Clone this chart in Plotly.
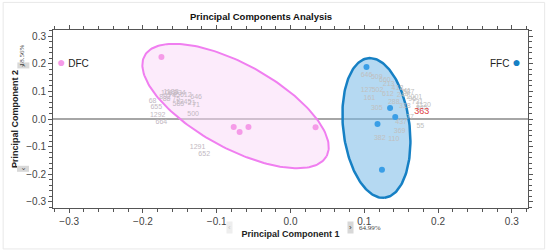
import numpy as np
import plotly.graph_objects as go

# sample scores
dfc_x = [-0.175, -0.077, -0.069, -0.057, 0.034]
dfc_y = [0.224, -0.029, -0.047, -0.029, -0.030]
ffc_x = [0.103, 0.135, 0.142, 0.118, 0.124]
ffc_y = [0.188, 0.040, 0.007, -0.018, -0.184]

# confidence ellipses: centre and two conjugate half-axis vectors
dfc_ell_center = (-0.0745, 0.047)
dfc_ell_a = (0.1233, -0.182)
dfc_ell_b = (-0.0276, -0.1326)
ffc_ell_center = (0.1165, -0.0325)
ffc_ell_a = (0.0113, -0.2524)
ffc_ell_b = (-0.0447, -0.0142)

# variable labels (loadings)
dfc_lab = ["1062", "745", "892", "646", "68", "655", "585", "21", "500", "1292",
           "664", "1291", "652", "1245", "75", "1183", "934", "88", "612", "71"]
dfc_lab_x = [-0.165, -0.158, -0.170, -0.128, -0.187, -0.182, -0.152, -0.134, -0.132, -0.180,
             -0.175, -0.126, -0.117, -0.145, -0.155, -0.162, -0.150, -0.168, -0.142, -0.128]
dfc_lab_y = [0.092, 0.086, 0.078, 0.078, 0.066, 0.042, 0.055, 0.058, 0.018, 0.012,
             -0.012, -0.103, -0.128, 0.062, 0.070, 0.098, 0.094, 0.072, 0.085, 0.050]

ffc_lab = ["646", "509", "127", "502", "161", "213", "418", "305", "55", "437",
           "369", "382", "110", "244", "587", "96", "731", "1120", "288", "41",
           "660", "2001", "318", "77", "845", "612"]
ffc_lab_x = [0.103, 0.117, 0.103, 0.118, 0.107, 0.133, 0.145, 0.117, 0.176, 0.150,
             0.148, 0.121, 0.140, 0.152, 0.160, 0.165, 0.172, 0.180, 0.140, 0.158,
             0.128, 0.168, 0.155, 0.162, 0.178, 0.132]
ffc_lab_y = [0.160, 0.150, 0.105, 0.105, 0.076, 0.125, 0.110, 0.040, -0.025, -0.010,
             -0.043, -0.070, -0.072, 0.085, 0.095, 0.070, 0.060, 0.050, 0.060, 0.100,
             0.140, 0.080, 0.045, 0.008, 0.040, 0.090]
red_lab, red_x, red_y = "363", 0.178, 0.025


def ellipse(c, a, b, n=200):
    t = np.linspace(0, 2 * np.pi, n)
    return (c[0] + a[0] * np.cos(t) + b[0] * np.sin(t),
            c[1] + a[1] * np.cos(t) + b[1] * np.sin(t))


fig = go.Figure()

ex, ey = ellipse(dfc_ell_center, dfc_ell_a, dfc_ell_b)
fig.add_trace(go.Scatter(x=ex, y=ey, mode="lines", fill="toself",
                         fillcolor="rgba(250,215,248,0.5)",
                         line=dict(color="#f07ef0", width=2), hoverinfo="skip"))
ex, ey = ellipse(ffc_ell_center, ffc_ell_a, ffc_ell_b)
fig.add_trace(go.Scatter(x=ex, y=ey, mode="lines", fill="toself",
                         fillcolor="rgba(120,185,232,0.55)",
                         line=dict(color="#1680c4", width=2.5), hoverinfo="skip"))

fig.add_trace(go.Scatter(x=dfc_lab_x, y=dfc_lab_y, text=dfc_lab, mode="text",
                         textfont=dict(size=7, color="#c2b8c2", family="Liberation Sans")))
fig.add_trace(go.Scatter(x=ffc_lab_x, y=ffc_lab_y, text=ffc_lab, mode="text",
                         textfont=dict(size=7, color="#c0c0c0", family="Liberation Sans")))
fig.add_trace(go.Scatter(x=[red_x], y=[red_y], text=[red_lab], mode="text",
                         textfont=dict(size=9, color="#e04040", family="Liberation Sans")))

fig.add_trace(go.Scatter(x=dfc_x, y=dfc_y, mode="markers",
                         marker=dict(color="#f59be8", size=6)))
fig.add_trace(go.Scatter(x=ffc_x, y=ffc_y, mode="markers",
                         marker=dict(color="#3a9ee6", size=6)))

axis_common = dict(
    showgrid=False, zeroline=False, showline=True, linecolor="#555", linewidth=1,
    ticks="outside", ticklen=4, tickcolor="#555", mirror="allticks",
    dtick=0.1, tickformat=".1f", range=[-0.322, 0.322], automargin=False,
    tickfont=dict(size=10, color="#444", family="Liberation Sans"),
    minor=dict(ticks="outside", ticklen=3, dtick=0.02, tickcolor="#555"),
)
fig.update_xaxes(**axis_common,
                 title=dict(text="<b>Principal Component 1</b>", standoff=4,
                            font=dict(size=9, color="#222", family="Liberation Sans")))
fig.update_yaxes(**axis_common,
                 title=dict(text="<b>Principal Component 2</b>", standoff=6,
                            font=dict(size=9, color="#222", family="Liberation Sans")))

fig.add_hline(y=0, line=dict(color="#888", width=1.5), layer="below")

ann = []
ann.append(dict(text="<span style='color:#f59be8;font-size:14px'>●</span> DFC", x=0.005, y=0.876,
                xref="paper", yref="paper", xanchor="left", showarrow=False,
                font=dict(size=10, color="#222", family="Liberation Sans")))
ann.append(dict(text="FFC <span style='color:#1680c4;font-size:14px'>●</span>", x=0.99, y=0.876,
                xref="paper", yref="paper", xanchor="right", showarrow=False,
                font=dict(size=10, color="#222", family="Liberation Sans")))
btn = dict(xref="paper", yref="paper", showarrow=False, bgcolor="#d8d8d8",
           borderpad=1, font=dict(size=8, color="#333", family="Liberation Sans"))
ann.append(dict(btn, text="‹", x=0.372, y=-0.147, bgcolor="#eeeeee",
                font=dict(size=8, color="#cccccc", family="Liberation Sans")))
ann.append(dict(btn, text="›", x=0.626, y=-0.147))
ann.append(dict(text="64.99%", x=0.64, y=-0.147, xref="paper", yref="paper",
                xanchor="left", showarrow=False,
                font=dict(size=7, color="#444", family="Liberation Serif")))
ann.append(dict(btn, text="›", x=-0.076, y=0.82, textangle=-90))
ann.append(dict(btn, text="‹", x=-0.076, y=0.2, textangle=-90))
ann.append(dict(text="18.56%", x=-0.076, y=0.93, xref="paper", yref="paper",
                textangle=-90, showarrow=False,
                font=dict(size=7, color="#444", family="Liberation Serif")))
fig.update_layout(annotations=ann)

fig.add_shape(type="rect", xref="paper", yref="paper", x0=-0.105, x1=1.035,
              y0=-0.23, y1=1.155, line=dict(color="#e8e8e8", width=1), layer="below")

fig.update_layout(
    title=dict(text="<b>Principal Components Analysis</b>", x=0.438, xref="paper",
               xanchor="center", y=0.935, yanchor="middle",
               font=dict(size=9.5, color="#111", family="Liberation Sans")),
    width=550, height=250,
    margin=dict(l=53, r=22, t=30, b=42),
    showlegend=False,
    plot_bgcolor="white", paper_bgcolor="white",
)

fig.write_html("out.html", config={"displayModeBar": False},
               post_script="document.body.style.margin='0';")
